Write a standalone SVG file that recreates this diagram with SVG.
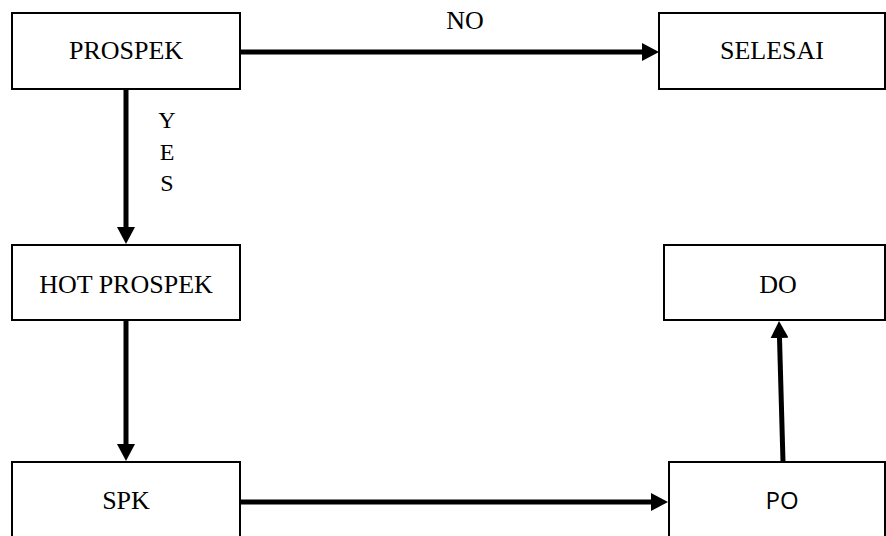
<svg xmlns="http://www.w3.org/2000/svg" width="886" height="536" viewBox="0 0 886 536">
<style>
.box{fill:#fff;stroke:#000;stroke-width:2}
.t{font-family:"Liberation Serif","Times New Roman",serif;font-size:26px;fill:#000;text-anchor:middle}
.s{font-family:"Open Sans","Liberation Sans",sans-serif;font-size:24px;fill:#000;text-anchor:middle}
.c{stroke:#000;stroke-width:5;fill:none;marker-end:url(#ah)}
</style>
<defs>
<marker id="ah" markerUnits="userSpaceOnUse" markerWidth="18" markerHeight="18" refX="0" refY="9" orient="auto" viewBox="0 0 18 18">
<path d="M0,0 L17,9 L0,18 Z" fill="#000"/>
</marker>
</defs>
<rect width="886" height="536" fill="#fff"/>
<g id="connectors">
<line class="c" x1="240" y1="52" x2="642" y2="52"/>
<line class="c" x1="126" y1="89" x2="126" y2="227"/>
<line class="c" x1="126" y1="320" x2="126" y2="444"/>
<line class="c" x1="240" y1="502" x2="651" y2="502"/>
<line class="c" x1="783" y1="462" x2="779.5" y2="338"/>
<text class="t" x="465" y="29">NO</text>
<text class="t" x="167" y="128" style="font-size:24px">Y</text>
<text class="t" x="167" y="160" style="font-size:24px">E</text>
<text class="t" x="167" y="191" style="font-size:24px">S</text>
</g>
<g id="prospek">
<rect class="box" x="12" y="13" width="228" height="76"/>
<text class="t" x="126" y="59">PROSPEK</text>
</g>
<g id="selesai">
<rect class="box" x="659" y="13" width="226" height="76"/>
<text class="t" x="772" y="59">SELESAI</text>
</g>
<g id="hot-prospek">
<rect class="box" x="12" y="245" width="228" height="75"/>
<text class="t" x="126" y="293">HOT PROSPEK</text>
</g>
<g id="do">
<rect class="box" x="664" y="245" width="221" height="75"/>
<text class="t" x="778" y="293">DO</text>
</g>
<g id="spk">
<rect class="box" x="12" y="462" width="228" height="100"/>
<text class="t" x="126" y="509">SPK</text>
</g>
<g id="po">
<rect class="box" x="669" y="462" width="216" height="100"/>
<text class="s" x="782" y="509">PO</text>
</g>
</svg>
